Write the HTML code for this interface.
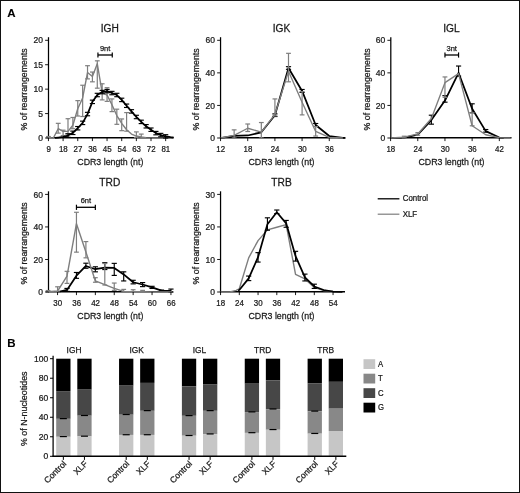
<!DOCTYPE html>
<html><head><meta charset="utf-8"><title>Figure</title>
<style>html,body{margin:0;padding:0;background:#fff;}svg{display:block;will-change:transform;}text{font-family:"Liberation Sans",sans-serif;}</style></head>
<body>
<svg width="520" height="493" viewBox="0 0 520 493" font-family="'Liberation Sans', sans-serif">
<rect x="0" y="0" width="520" height="493" fill="#fff"/>
<text transform="translate(7.3 16.7)" font-size="11.5" text-anchor="start" font-weight="bold" fill="#000" stroke="#000" stroke-width="0.1">A</text>
<text transform="translate(7.3 347.4)" font-size="11.5" text-anchor="start" font-weight="bold" fill="#000" stroke="#000" stroke-width="0.1">B</text>
<line x1="48.5" y1="37.2" x2="48.5" y2="138.5" stroke="#000" stroke-width="1.25" stroke-linecap="butt"/>
<line x1="47.9" y1="137.75" x2="173.2" y2="137.75" stroke="#000" stroke-width="1.35" stroke-linecap="butt"/>
<line x1="48.45" y1="137.76" x2="48.45" y2="136.53" stroke="#7e7e7e" stroke-width="1.2" stroke-linecap="butt"/>
<line x1="46.05" y1="136.53" x2="50.85" y2="136.53" stroke="#7e7e7e" stroke-width="1.2" stroke-linecap="butt"/>
<line x1="46.05" y1="137.76" x2="50.85" y2="137.76" stroke="#7e7e7e" stroke-width="1.2" stroke-linecap="butt"/>
<line x1="58.22" y1="133.12" x2="58.22" y2="123.34" stroke="#7e7e7e" stroke-width="1.2" stroke-linecap="butt"/>
<line x1="55.82" y1="123.34" x2="60.62" y2="123.34" stroke="#7e7e7e" stroke-width="1.2" stroke-linecap="butt"/>
<line x1="55.82" y1="133.12" x2="60.62" y2="133.12" stroke="#7e7e7e" stroke-width="1.2" stroke-linecap="butt"/>
<line x1="63.1" y1="135.56" x2="63.1" y2="130.18" stroke="#7e7e7e" stroke-width="1.2" stroke-linecap="butt"/>
<line x1="60.7" y1="130.18" x2="65.5" y2="130.18" stroke="#7e7e7e" stroke-width="1.2" stroke-linecap="butt"/>
<line x1="60.7" y1="135.56" x2="65.5" y2="135.56" stroke="#7e7e7e" stroke-width="1.2" stroke-linecap="butt"/>
<line x1="67.99" y1="133.6" x2="67.99" y2="118.7" stroke="#7e7e7e" stroke-width="1.2" stroke-linecap="butt"/>
<line x1="65.59" y1="118.7" x2="70.39" y2="118.7" stroke="#7e7e7e" stroke-width="1.2" stroke-linecap="butt"/>
<line x1="65.59" y1="133.6" x2="70.39" y2="133.6" stroke="#7e7e7e" stroke-width="1.2" stroke-linecap="butt"/>
<line x1="72.87" y1="128.72" x2="72.87" y2="117.48" stroke="#7e7e7e" stroke-width="1.2" stroke-linecap="butt"/>
<line x1="70.47" y1="117.48" x2="75.27" y2="117.48" stroke="#7e7e7e" stroke-width="1.2" stroke-linecap="butt"/>
<line x1="70.47" y1="128.72" x2="75.27" y2="128.72" stroke="#7e7e7e" stroke-width="1.2" stroke-linecap="butt"/>
<line x1="77.75" y1="116.02" x2="77.75" y2="100.63" stroke="#7e7e7e" stroke-width="1.2" stroke-linecap="butt"/>
<line x1="75.35" y1="100.63" x2="80.15" y2="100.63" stroke="#7e7e7e" stroke-width="1.2" stroke-linecap="butt"/>
<line x1="75.35" y1="116.02" x2="80.15" y2="116.02" stroke="#7e7e7e" stroke-width="1.2" stroke-linecap="butt"/>
<line x1="82.64" y1="116.51" x2="82.64" y2="85.24" stroke="#7e7e7e" stroke-width="1.2" stroke-linecap="butt"/>
<line x1="80.24" y1="85.24" x2="85.04" y2="85.24" stroke="#7e7e7e" stroke-width="1.2" stroke-linecap="butt"/>
<line x1="80.24" y1="116.51" x2="85.04" y2="116.51" stroke="#7e7e7e" stroke-width="1.2" stroke-linecap="butt"/>
<line x1="87.52" y1="78.89" x2="87.52" y2="65.7" stroke="#7e7e7e" stroke-width="1.2" stroke-linecap="butt"/>
<line x1="85.12" y1="65.7" x2="89.92" y2="65.7" stroke="#7e7e7e" stroke-width="1.2" stroke-linecap="butt"/>
<line x1="85.12" y1="78.89" x2="89.92" y2="78.89" stroke="#7e7e7e" stroke-width="1.2" stroke-linecap="butt"/>
<line x1="92.41" y1="81.82" x2="92.41" y2="72.05" stroke="#7e7e7e" stroke-width="1.2" stroke-linecap="butt"/>
<line x1="90.01" y1="72.05" x2="94.81" y2="72.05" stroke="#7e7e7e" stroke-width="1.2" stroke-linecap="butt"/>
<line x1="90.01" y1="81.82" x2="94.81" y2="81.82" stroke="#7e7e7e" stroke-width="1.2" stroke-linecap="butt"/>
<line x1="97.29" y1="88.17" x2="97.29" y2="60.82" stroke="#7e7e7e" stroke-width="1.2" stroke-linecap="butt"/>
<line x1="94.89" y1="60.82" x2="99.69" y2="60.82" stroke="#7e7e7e" stroke-width="1.2" stroke-linecap="butt"/>
<line x1="94.89" y1="88.17" x2="99.69" y2="88.17" stroke="#7e7e7e" stroke-width="1.2" stroke-linecap="butt"/>
<line x1="102.17" y1="99.9" x2="102.17" y2="83.78" stroke="#7e7e7e" stroke-width="1.2" stroke-linecap="butt"/>
<line x1="99.77" y1="83.78" x2="104.57" y2="83.78" stroke="#7e7e7e" stroke-width="1.2" stroke-linecap="butt"/>
<line x1="99.77" y1="99.9" x2="104.57" y2="99.9" stroke="#7e7e7e" stroke-width="1.2" stroke-linecap="butt"/>
<line x1="107.06" y1="101.36" x2="107.06" y2="87.68" stroke="#7e7e7e" stroke-width="1.2" stroke-linecap="butt"/>
<line x1="104.66" y1="87.68" x2="109.46" y2="87.68" stroke="#7e7e7e" stroke-width="1.2" stroke-linecap="butt"/>
<line x1="104.66" y1="101.36" x2="109.46" y2="101.36" stroke="#7e7e7e" stroke-width="1.2" stroke-linecap="butt"/>
<line x1="111.94" y1="111.62" x2="111.94" y2="98.92" stroke="#7e7e7e" stroke-width="1.2" stroke-linecap="butt"/>
<line x1="109.54" y1="98.92" x2="114.34" y2="98.92" stroke="#7e7e7e" stroke-width="1.2" stroke-linecap="butt"/>
<line x1="109.54" y1="111.62" x2="114.34" y2="111.62" stroke="#7e7e7e" stroke-width="1.2" stroke-linecap="butt"/>
<line x1="116.83" y1="124.32" x2="116.83" y2="109.18" stroke="#7e7e7e" stroke-width="1.2" stroke-linecap="butt"/>
<line x1="114.43" y1="109.18" x2="119.23" y2="109.18" stroke="#7e7e7e" stroke-width="1.2" stroke-linecap="butt"/>
<line x1="114.43" y1="124.32" x2="119.23" y2="124.32" stroke="#7e7e7e" stroke-width="1.2" stroke-linecap="butt"/>
<line x1="121.71" y1="130.67" x2="121.71" y2="118.95" stroke="#7e7e7e" stroke-width="1.2" stroke-linecap="butt"/>
<line x1="119.31" y1="118.95" x2="124.11" y2="118.95" stroke="#7e7e7e" stroke-width="1.2" stroke-linecap="butt"/>
<line x1="119.31" y1="130.67" x2="124.11" y2="130.67" stroke="#7e7e7e" stroke-width="1.2" stroke-linecap="butt"/>
<line x1="126.59" y1="131.16" x2="126.59" y2="112.6" stroke="#7e7e7e" stroke-width="1.2" stroke-linecap="butt"/>
<line x1="124.19" y1="112.6" x2="128.99" y2="112.6" stroke="#7e7e7e" stroke-width="1.2" stroke-linecap="butt"/>
<line x1="124.19" y1="131.16" x2="128.99" y2="131.16" stroke="#7e7e7e" stroke-width="1.2" stroke-linecap="butt"/>
<line x1="136.36" y1="137.51" x2="136.36" y2="131.89" stroke="#7e7e7e" stroke-width="1.2" stroke-linecap="butt"/>
<line x1="133.96" y1="131.89" x2="138.76" y2="131.89" stroke="#7e7e7e" stroke-width="1.2" stroke-linecap="butt"/>
<line x1="133.96" y1="137.51" x2="138.76" y2="137.51" stroke="#7e7e7e" stroke-width="1.2" stroke-linecap="butt"/>
<line x1="141.25" y1="138" x2="141.25" y2="134.09" stroke="#7e7e7e" stroke-width="1.2" stroke-linecap="butt"/>
<line x1="138.85" y1="134.09" x2="143.65" y2="134.09" stroke="#7e7e7e" stroke-width="1.2" stroke-linecap="butt"/>
<line x1="138.85" y1="138" x2="143.65" y2="138" stroke="#7e7e7e" stroke-width="1.2" stroke-linecap="butt"/>
<polyline points="48.45,137.76 53.33,138 58.22,128.72 63.1,131.41 67.99,131.41 72.87,125.3 77.75,108.69 82.64,97.94 87.52,72.54 92.41,76.45 97.29,63.75 102.17,92.57 107.06,95.01 111.94,104.78 116.83,115.53 121.71,123.34 126.59,129.7 131.48,134.09 136.36,136.05 141.25,137.02 146.13,137.76 151.01,138 170.55,138" fill="none" stroke="#7e7e7e" stroke-width="1.4" stroke-linejoin="round"/>
<line x1="67.99" y1="137.27" x2="67.99" y2="133.85" stroke="#000" stroke-width="1.15" stroke-linecap="butt"/>
<line x1="65.39" y1="133.85" x2="70.59" y2="133.85" stroke="#000" stroke-width="1.15" stroke-linecap="butt"/>
<line x1="65.39" y1="137.27" x2="70.59" y2="137.27" stroke="#000" stroke-width="1.15" stroke-linecap="butt"/>
<line x1="72.87" y1="134.53" x2="72.87" y2="131.11" stroke="#000" stroke-width="1.15" stroke-linecap="butt"/>
<line x1="70.27" y1="131.11" x2="75.47" y2="131.11" stroke="#000" stroke-width="1.15" stroke-linecap="butt"/>
<line x1="70.27" y1="134.53" x2="75.47" y2="134.53" stroke="#000" stroke-width="1.15" stroke-linecap="butt"/>
<line x1="77.75" y1="129.94" x2="77.75" y2="126.52" stroke="#000" stroke-width="1.15" stroke-linecap="butt"/>
<line x1="75.15" y1="126.52" x2="80.35" y2="126.52" stroke="#000" stroke-width="1.15" stroke-linecap="butt"/>
<line x1="75.15" y1="129.94" x2="80.35" y2="129.94" stroke="#000" stroke-width="1.15" stroke-linecap="butt"/>
<line x1="82.64" y1="124.57" x2="82.64" y2="121.15" stroke="#000" stroke-width="1.15" stroke-linecap="butt"/>
<line x1="80.04" y1="121.15" x2="85.24" y2="121.15" stroke="#000" stroke-width="1.15" stroke-linecap="butt"/>
<line x1="80.04" y1="124.57" x2="85.24" y2="124.57" stroke="#000" stroke-width="1.15" stroke-linecap="butt"/>
<line x1="87.52" y1="115.77" x2="87.52" y2="112.35" stroke="#000" stroke-width="1.15" stroke-linecap="butt"/>
<line x1="84.92" y1="112.35" x2="90.12" y2="112.35" stroke="#000" stroke-width="1.15" stroke-linecap="butt"/>
<line x1="84.92" y1="115.77" x2="90.12" y2="115.77" stroke="#000" stroke-width="1.15" stroke-linecap="butt"/>
<line x1="92.41" y1="103.56" x2="92.41" y2="100.14" stroke="#000" stroke-width="1.15" stroke-linecap="butt"/>
<line x1="89.81" y1="100.14" x2="95.01" y2="100.14" stroke="#000" stroke-width="1.15" stroke-linecap="butt"/>
<line x1="89.81" y1="103.56" x2="95.01" y2="103.56" stroke="#000" stroke-width="1.15" stroke-linecap="butt"/>
<line x1="97.29" y1="96.72" x2="97.29" y2="93.3" stroke="#000" stroke-width="1.15" stroke-linecap="butt"/>
<line x1="94.69" y1="93.3" x2="99.89" y2="93.3" stroke="#000" stroke-width="1.15" stroke-linecap="butt"/>
<line x1="94.69" y1="96.72" x2="99.89" y2="96.72" stroke="#000" stroke-width="1.15" stroke-linecap="butt"/>
<line x1="102.17" y1="93.79" x2="102.17" y2="90.37" stroke="#000" stroke-width="1.15" stroke-linecap="butt"/>
<line x1="99.57" y1="90.37" x2="104.77" y2="90.37" stroke="#000" stroke-width="1.15" stroke-linecap="butt"/>
<line x1="99.57" y1="93.79" x2="104.77" y2="93.79" stroke="#000" stroke-width="1.15" stroke-linecap="butt"/>
<line x1="107.06" y1="92.81" x2="107.06" y2="89.39" stroke="#000" stroke-width="1.15" stroke-linecap="butt"/>
<line x1="104.46" y1="89.39" x2="109.66" y2="89.39" stroke="#000" stroke-width="1.15" stroke-linecap="butt"/>
<line x1="104.46" y1="92.81" x2="109.66" y2="92.81" stroke="#000" stroke-width="1.15" stroke-linecap="butt"/>
<line x1="111.94" y1="94.77" x2="111.94" y2="91.35" stroke="#000" stroke-width="1.15" stroke-linecap="butt"/>
<line x1="109.34" y1="91.35" x2="114.54" y2="91.35" stroke="#000" stroke-width="1.15" stroke-linecap="butt"/>
<line x1="109.34" y1="94.77" x2="114.54" y2="94.77" stroke="#000" stroke-width="1.15" stroke-linecap="butt"/>
<line x1="116.83" y1="96.72" x2="116.83" y2="93.3" stroke="#000" stroke-width="1.15" stroke-linecap="butt"/>
<line x1="114.23" y1="93.3" x2="119.43" y2="93.3" stroke="#000" stroke-width="1.15" stroke-linecap="butt"/>
<line x1="114.23" y1="96.72" x2="119.43" y2="96.72" stroke="#000" stroke-width="1.15" stroke-linecap="butt"/>
<line x1="121.71" y1="101.61" x2="121.71" y2="98.19" stroke="#000" stroke-width="1.15" stroke-linecap="butt"/>
<line x1="119.11" y1="98.19" x2="124.31" y2="98.19" stroke="#000" stroke-width="1.15" stroke-linecap="butt"/>
<line x1="119.11" y1="101.61" x2="124.31" y2="101.61" stroke="#000" stroke-width="1.15" stroke-linecap="butt"/>
<line x1="126.59" y1="107.47" x2="126.59" y2="104.05" stroke="#000" stroke-width="1.15" stroke-linecap="butt"/>
<line x1="123.99" y1="104.05" x2="129.19" y2="104.05" stroke="#000" stroke-width="1.15" stroke-linecap="butt"/>
<line x1="123.99" y1="107.47" x2="129.19" y2="107.47" stroke="#000" stroke-width="1.15" stroke-linecap="butt"/>
<line x1="131.48" y1="113.09" x2="131.48" y2="109.67" stroke="#000" stroke-width="1.15" stroke-linecap="butt"/>
<line x1="128.88" y1="109.67" x2="134.08" y2="109.67" stroke="#000" stroke-width="1.15" stroke-linecap="butt"/>
<line x1="128.88" y1="113.09" x2="134.08" y2="113.09" stroke="#000" stroke-width="1.15" stroke-linecap="butt"/>
<line x1="136.36" y1="118.7" x2="136.36" y2="115.28" stroke="#000" stroke-width="1.15" stroke-linecap="butt"/>
<line x1="133.76" y1="115.28" x2="138.96" y2="115.28" stroke="#000" stroke-width="1.15" stroke-linecap="butt"/>
<line x1="133.76" y1="118.7" x2="138.96" y2="118.7" stroke="#000" stroke-width="1.15" stroke-linecap="butt"/>
<line x1="141.25" y1="123.59" x2="141.25" y2="120.17" stroke="#000" stroke-width="1.15" stroke-linecap="butt"/>
<line x1="138.65" y1="120.17" x2="143.85" y2="120.17" stroke="#000" stroke-width="1.15" stroke-linecap="butt"/>
<line x1="138.65" y1="123.59" x2="143.85" y2="123.59" stroke="#000" stroke-width="1.15" stroke-linecap="butt"/>
<line x1="146.13" y1="127.99" x2="146.13" y2="124.57" stroke="#000" stroke-width="1.15" stroke-linecap="butt"/>
<line x1="143.53" y1="124.57" x2="148.73" y2="124.57" stroke="#000" stroke-width="1.15" stroke-linecap="butt"/>
<line x1="143.53" y1="127.99" x2="148.73" y2="127.99" stroke="#000" stroke-width="1.15" stroke-linecap="butt"/>
<line x1="151.01" y1="131.41" x2="151.01" y2="127.99" stroke="#000" stroke-width="1.15" stroke-linecap="butt"/>
<line x1="148.41" y1="127.99" x2="153.61" y2="127.99" stroke="#000" stroke-width="1.15" stroke-linecap="butt"/>
<line x1="148.41" y1="131.41" x2="153.61" y2="131.41" stroke="#000" stroke-width="1.15" stroke-linecap="butt"/>
<line x1="155.9" y1="134.82" x2="155.9" y2="131.41" stroke="#000" stroke-width="1.15" stroke-linecap="butt"/>
<line x1="153.3" y1="131.41" x2="158.5" y2="131.41" stroke="#000" stroke-width="1.15" stroke-linecap="butt"/>
<line x1="153.3" y1="134.82" x2="158.5" y2="134.82" stroke="#000" stroke-width="1.15" stroke-linecap="butt"/>
<line x1="160.78" y1="136.78" x2="160.78" y2="133.36" stroke="#000" stroke-width="1.15" stroke-linecap="butt"/>
<line x1="158.18" y1="133.36" x2="163.38" y2="133.36" stroke="#000" stroke-width="1.15" stroke-linecap="butt"/>
<line x1="158.18" y1="136.78" x2="163.38" y2="136.78" stroke="#000" stroke-width="1.15" stroke-linecap="butt"/>
<line x1="165.67" y1="138" x2="165.67" y2="134.68" stroke="#000" stroke-width="1.15" stroke-linecap="butt"/>
<line x1="163.07" y1="134.68" x2="168.27" y2="134.68" stroke="#000" stroke-width="1.15" stroke-linecap="butt"/>
<line x1="163.07" y1="138" x2="168.27" y2="138" stroke="#000" stroke-width="1.15" stroke-linecap="butt"/>
<polyline points="54.96,137.9 58.22,137.51 63.1,136.83 67.99,135.56 72.87,132.82 77.75,128.23 82.64,122.86 87.52,114.06 92.41,101.85 97.29,95.01 102.17,92.08 107.06,91.1 111.94,93.06 116.83,95.01 121.71,99.9 126.59,105.76 131.48,111.38 136.36,116.99 141.25,121.88 146.13,126.28 151.01,129.7 155.9,133.12 160.78,135.07 165.67,136.39 170.55,137.12 173.81,137.51" fill="none" stroke="#000" stroke-width="1.75" stroke-linejoin="round"/>
<line x1="45.1" y1="138" x2="48.5" y2="138" stroke="#000" stroke-width="0.9" stroke-linecap="butt"/>
<text transform="translate(43 141.1) scale(0.97 1)" font-size="8.8" text-anchor="end" font-weight="normal" fill="#1a1a1a" stroke="#1a1a1a" stroke-width="0.25">0</text>
<line x1="45.1" y1="113.58" x2="48.5" y2="113.58" stroke="#000" stroke-width="0.9" stroke-linecap="butt"/>
<text transform="translate(43 116.67) scale(0.97 1)" font-size="8.8" text-anchor="end" font-weight="normal" fill="#1a1a1a" stroke="#1a1a1a" stroke-width="0.25">5</text>
<line x1="45.1" y1="89.15" x2="48.5" y2="89.15" stroke="#000" stroke-width="0.9" stroke-linecap="butt"/>
<text transform="translate(43 92.25) scale(0.97 1)" font-size="8.8" text-anchor="end" font-weight="normal" fill="#1a1a1a" stroke="#1a1a1a" stroke-width="0.25">10</text>
<line x1="45.1" y1="64.73" x2="48.5" y2="64.73" stroke="#000" stroke-width="0.9" stroke-linecap="butt"/>
<text transform="translate(43 67.83) scale(0.97 1)" font-size="8.8" text-anchor="end" font-weight="normal" fill="#1a1a1a" stroke="#1a1a1a" stroke-width="0.25">15</text>
<line x1="45.1" y1="40.3" x2="48.5" y2="40.3" stroke="#000" stroke-width="0.9" stroke-linecap="butt"/>
<text transform="translate(43 43.4) scale(0.97 1)" font-size="8.8" text-anchor="end" font-weight="normal" fill="#1a1a1a" stroke="#1a1a1a" stroke-width="0.25">20</text>
<line x1="48.45" y1="138" x2="48.45" y2="141.1" stroke="#000" stroke-width="0.9" stroke-linecap="butt"/>
<text transform="translate(48.65 152.1) scale(0.9 1)" font-size="8.8" text-anchor="middle" font-weight="normal" fill="#1a1a1a" stroke="#1a1a1a" stroke-width="0.25">9</text>
<line x1="63.1" y1="138" x2="63.1" y2="141.1" stroke="#000" stroke-width="0.9" stroke-linecap="butt"/>
<text transform="translate(63.3 152.1) scale(0.9 1)" font-size="8.8" text-anchor="middle" font-weight="normal" fill="#1a1a1a" stroke="#1a1a1a" stroke-width="0.25">18</text>
<line x1="77.75" y1="138" x2="77.75" y2="141.1" stroke="#000" stroke-width="0.9" stroke-linecap="butt"/>
<text transform="translate(77.95 152.1) scale(0.9 1)" font-size="8.8" text-anchor="middle" font-weight="normal" fill="#1a1a1a" stroke="#1a1a1a" stroke-width="0.25">27</text>
<line x1="92.41" y1="138" x2="92.41" y2="141.1" stroke="#000" stroke-width="0.9" stroke-linecap="butt"/>
<text transform="translate(92.61 152.1) scale(0.9 1)" font-size="8.8" text-anchor="middle" font-weight="normal" fill="#1a1a1a" stroke="#1a1a1a" stroke-width="0.25">36</text>
<line x1="107.06" y1="138" x2="107.06" y2="141.1" stroke="#000" stroke-width="0.9" stroke-linecap="butt"/>
<text transform="translate(107.26 152.1) scale(0.9 1)" font-size="8.8" text-anchor="middle" font-weight="normal" fill="#1a1a1a" stroke="#1a1a1a" stroke-width="0.25">45</text>
<line x1="121.71" y1="138" x2="121.71" y2="141.1" stroke="#000" stroke-width="0.9" stroke-linecap="butt"/>
<text transform="translate(121.91 152.1) scale(0.9 1)" font-size="8.8" text-anchor="middle" font-weight="normal" fill="#1a1a1a" stroke="#1a1a1a" stroke-width="0.25">54</text>
<line x1="136.36" y1="138" x2="136.36" y2="141.1" stroke="#000" stroke-width="0.9" stroke-linecap="butt"/>
<text transform="translate(136.56 152.1) scale(0.9 1)" font-size="8.8" text-anchor="middle" font-weight="normal" fill="#1a1a1a" stroke="#1a1a1a" stroke-width="0.25">63</text>
<line x1="151.01" y1="138" x2="151.01" y2="141.1" stroke="#000" stroke-width="0.9" stroke-linecap="butt"/>
<text transform="translate(151.21 152.1) scale(0.9 1)" font-size="8.8" text-anchor="middle" font-weight="normal" fill="#1a1a1a" stroke="#1a1a1a" stroke-width="0.25">72</text>
<line x1="165.67" y1="138" x2="165.67" y2="141.1" stroke="#000" stroke-width="0.9" stroke-linecap="butt"/>
<text transform="translate(165.87 152.1) scale(0.9 1)" font-size="8.8" text-anchor="middle" font-weight="normal" fill="#1a1a1a" stroke="#1a1a1a" stroke-width="0.25">81</text>
<text transform="translate(109.8 32.1) scale(1.02 1)" font-size="10" text-anchor="middle" font-weight="normal" fill="#1a1a1a" stroke="#1a1a1a" stroke-width="0.25">IGH</text>
<text transform="translate(110.3 165.3) scale(0.905 1)" font-size="9.75" text-anchor="middle" font-weight="normal" fill="#1a1a1a" stroke="#1a1a1a" stroke-width="0.25">CDR3 length (nt)</text>
<text transform="translate(27.4 89.35) rotate(-90) scale(0.978 1)" font-size="9.0" text-anchor="middle" font-weight="normal" fill="#1a1a1a" stroke="#1a1a1a" stroke-width="0.25">% of rearrangements</text>
<line x1="97.94" y1="55" x2="112.27" y2="55" stroke="#000" stroke-width="1.3" stroke-linecap="butt"/>
<line x1="97.94" y1="52.4" x2="97.94" y2="57.6" stroke="#000" stroke-width="1.2" stroke-linecap="butt"/>
<line x1="112.27" y1="52.4" x2="112.27" y2="57.6" stroke="#000" stroke-width="1.2" stroke-linecap="butt"/>
<text transform="translate(105.1 51)" font-size="7.5" text-anchor="middle" font-weight="normal" fill="#1a1a1a" stroke="#1a1a1a" stroke-width="0.25">9nt</text>
<line x1="220.55" y1="37.2" x2="220.55" y2="138.5" stroke="#000" stroke-width="1.25" stroke-linecap="butt"/>
<line x1="219.95" y1="137.75" x2="345" y2="137.75" stroke="#000" stroke-width="1.35" stroke-linecap="butt"/>
<line x1="274.91" y1="116.51" x2="274.91" y2="113.9" stroke="#000" stroke-width="1.15" stroke-linecap="butt"/>
<line x1="272.31" y1="113.9" x2="277.51" y2="113.9" stroke="#000" stroke-width="1.15" stroke-linecap="butt"/>
<line x1="272.31" y1="116.51" x2="277.51" y2="116.51" stroke="#000" stroke-width="1.15" stroke-linecap="butt"/>
<line x1="288.5" y1="69.28" x2="288.5" y2="66.68" stroke="#000" stroke-width="1.15" stroke-linecap="butt"/>
<line x1="285.9" y1="66.68" x2="291.1" y2="66.68" stroke="#000" stroke-width="1.15" stroke-linecap="butt"/>
<line x1="285.9" y1="69.28" x2="291.1" y2="69.28" stroke="#000" stroke-width="1.15" stroke-linecap="butt"/>
<line x1="302.09" y1="92.41" x2="302.09" y2="89.48" stroke="#000" stroke-width="1.15" stroke-linecap="butt"/>
<line x1="299.49" y1="89.48" x2="304.69" y2="89.48" stroke="#000" stroke-width="1.15" stroke-linecap="butt"/>
<line x1="299.49" y1="92.41" x2="304.69" y2="92.41" stroke="#000" stroke-width="1.15" stroke-linecap="butt"/>
<line x1="315.68" y1="126.44" x2="315.68" y2="123.51" stroke="#000" stroke-width="1.15" stroke-linecap="butt"/>
<line x1="313.08" y1="123.51" x2="318.28" y2="123.51" stroke="#000" stroke-width="1.15" stroke-linecap="butt"/>
<line x1="313.08" y1="126.44" x2="318.28" y2="126.44" stroke="#000" stroke-width="1.15" stroke-linecap="butt"/>
<polyline points="220.55,138 234.14,135.88 247.73,135.48 261.32,132.3 274.91,115.2 288.5,67.98 302.09,90.94 315.68,124.97 329.27,136.05 342.86,137.84 345.58,138" fill="none" stroke="#000" stroke-width="1.75" stroke-linejoin="round"/>
<line x1="234.14" y1="138" x2="234.14" y2="129.86" stroke="#7e7e7e" stroke-width="1.2" stroke-linecap="butt"/>
<line x1="231.74" y1="129.86" x2="236.54" y2="129.86" stroke="#7e7e7e" stroke-width="1.2" stroke-linecap="butt"/>
<line x1="231.74" y1="138" x2="236.54" y2="138" stroke="#7e7e7e" stroke-width="1.2" stroke-linecap="butt"/>
<line x1="247.73" y1="131.49" x2="247.73" y2="124" stroke="#7e7e7e" stroke-width="1.2" stroke-linecap="butt"/>
<line x1="245.33" y1="124" x2="250.13" y2="124" stroke="#7e7e7e" stroke-width="1.2" stroke-linecap="butt"/>
<line x1="245.33" y1="131.49" x2="250.13" y2="131.49" stroke="#7e7e7e" stroke-width="1.2" stroke-linecap="butt"/>
<line x1="261.32" y1="138" x2="261.32" y2="122.53" stroke="#7e7e7e" stroke-width="1.2" stroke-linecap="butt"/>
<line x1="258.92" y1="122.53" x2="263.72" y2="122.53" stroke="#7e7e7e" stroke-width="1.2" stroke-linecap="butt"/>
<line x1="258.92" y1="138" x2="263.72" y2="138" stroke="#7e7e7e" stroke-width="1.2" stroke-linecap="butt"/>
<line x1="274.91" y1="115.85" x2="274.91" y2="98.92" stroke="#7e7e7e" stroke-width="1.2" stroke-linecap="butt"/>
<line x1="272.51" y1="98.92" x2="277.31" y2="98.92" stroke="#7e7e7e" stroke-width="1.2" stroke-linecap="butt"/>
<line x1="272.51" y1="115.85" x2="277.31" y2="115.85" stroke="#7e7e7e" stroke-width="1.2" stroke-linecap="butt"/>
<line x1="288.5" y1="81.82" x2="288.5" y2="53.33" stroke="#7e7e7e" stroke-width="1.2" stroke-linecap="butt"/>
<line x1="286.1" y1="53.33" x2="290.9" y2="53.33" stroke="#7e7e7e" stroke-width="1.2" stroke-linecap="butt"/>
<line x1="286.1" y1="81.82" x2="290.9" y2="81.82" stroke="#7e7e7e" stroke-width="1.2" stroke-linecap="butt"/>
<line x1="302.09" y1="114.88" x2="302.09" y2="91.59" stroke="#7e7e7e" stroke-width="1.2" stroke-linecap="butt"/>
<line x1="299.69" y1="91.59" x2="304.49" y2="91.59" stroke="#7e7e7e" stroke-width="1.2" stroke-linecap="butt"/>
<line x1="299.69" y1="114.88" x2="304.49" y2="114.88" stroke="#7e7e7e" stroke-width="1.2" stroke-linecap="butt"/>
<line x1="315.68" y1="136.05" x2="315.68" y2="126.6" stroke="#7e7e7e" stroke-width="1.2" stroke-linecap="butt"/>
<line x1="313.28" y1="126.6" x2="318.08" y2="126.6" stroke="#7e7e7e" stroke-width="1.2" stroke-linecap="butt"/>
<line x1="313.28" y1="136.05" x2="318.08" y2="136.05" stroke="#7e7e7e" stroke-width="1.2" stroke-linecap="butt"/>
<polyline points="220.55,138 234.14,135.39 247.73,128.23 261.32,132.14 274.91,114.39 288.5,71.24 302.09,102.18 315.68,131.49 329.27,137.35 342.86,138" fill="none" stroke="#7e7e7e" stroke-width="1.35" stroke-linejoin="round"/>
<line x1="217.15" y1="138" x2="220.55" y2="138" stroke="#000" stroke-width="0.9" stroke-linecap="butt"/>
<text transform="translate(215.05 141.1) scale(0.97 1)" font-size="8.8" text-anchor="end" font-weight="normal" fill="#1a1a1a" stroke="#1a1a1a" stroke-width="0.25">0</text>
<line x1="217.15" y1="105.43" x2="220.55" y2="105.43" stroke="#000" stroke-width="0.9" stroke-linecap="butt"/>
<text transform="translate(215.05 108.53) scale(0.97 1)" font-size="8.8" text-anchor="end" font-weight="normal" fill="#1a1a1a" stroke="#1a1a1a" stroke-width="0.25">20</text>
<line x1="217.15" y1="72.87" x2="220.55" y2="72.87" stroke="#000" stroke-width="0.9" stroke-linecap="butt"/>
<text transform="translate(215.05 75.97) scale(0.97 1)" font-size="8.8" text-anchor="end" font-weight="normal" fill="#1a1a1a" stroke="#1a1a1a" stroke-width="0.25">40</text>
<line x1="217.15" y1="40.3" x2="220.55" y2="40.3" stroke="#000" stroke-width="0.9" stroke-linecap="butt"/>
<text transform="translate(215.05 43.4) scale(0.97 1)" font-size="8.8" text-anchor="end" font-weight="normal" fill="#1a1a1a" stroke="#1a1a1a" stroke-width="0.25">60</text>
<line x1="220.55" y1="138" x2="220.55" y2="141.1" stroke="#000" stroke-width="0.9" stroke-linecap="butt"/>
<text transform="translate(220.75 152.1) scale(0.9 1)" font-size="8.8" text-anchor="middle" font-weight="normal" fill="#1a1a1a" stroke="#1a1a1a" stroke-width="0.25">12</text>
<line x1="247.73" y1="138" x2="247.73" y2="141.1" stroke="#000" stroke-width="0.9" stroke-linecap="butt"/>
<text transform="translate(247.93 152.1) scale(0.9 1)" font-size="8.8" text-anchor="middle" font-weight="normal" fill="#1a1a1a" stroke="#1a1a1a" stroke-width="0.25">18</text>
<line x1="274.91" y1="138" x2="274.91" y2="141.1" stroke="#000" stroke-width="0.9" stroke-linecap="butt"/>
<text transform="translate(275.11 152.1) scale(0.9 1)" font-size="8.8" text-anchor="middle" font-weight="normal" fill="#1a1a1a" stroke="#1a1a1a" stroke-width="0.25">24</text>
<line x1="302.09" y1="138" x2="302.09" y2="141.1" stroke="#000" stroke-width="0.9" stroke-linecap="butt"/>
<text transform="translate(302.29 152.1) scale(0.9 1)" font-size="8.8" text-anchor="middle" font-weight="normal" fill="#1a1a1a" stroke="#1a1a1a" stroke-width="0.25">30</text>
<line x1="329.27" y1="138" x2="329.27" y2="141.1" stroke="#000" stroke-width="0.9" stroke-linecap="butt"/>
<text transform="translate(329.47 152.1) scale(0.9 1)" font-size="8.8" text-anchor="middle" font-weight="normal" fill="#1a1a1a" stroke="#1a1a1a" stroke-width="0.25">36</text>
<text transform="translate(281.5 32.1) scale(1.02 1)" font-size="10" text-anchor="middle" font-weight="normal" fill="#1a1a1a" stroke="#1a1a1a" stroke-width="0.25">IGK</text>
<text transform="translate(281.5 165.3) scale(0.905 1)" font-size="9.75" text-anchor="middle" font-weight="normal" fill="#1a1a1a" stroke="#1a1a1a" stroke-width="0.25">CDR3 length (nt)</text>
<text transform="translate(199.45 89.35) rotate(-90) scale(0.978 1)" font-size="9.0" text-anchor="middle" font-weight="normal" fill="#1a1a1a" stroke="#1a1a1a" stroke-width="0.25">% of rearrangements</text>
<line x1="390.8" y1="37.2" x2="390.8" y2="138.5" stroke="#000" stroke-width="1.25" stroke-linecap="butt"/>
<line x1="390.2" y1="137.75" x2="511.5" y2="137.75" stroke="#000" stroke-width="1.35" stroke-linecap="butt"/>
<line x1="431.37" y1="124.16" x2="431.37" y2="115.2" stroke="#000" stroke-width="1.15" stroke-linecap="butt"/>
<line x1="428.77" y1="115.2" x2="433.97" y2="115.2" stroke="#000" stroke-width="1.15" stroke-linecap="butt"/>
<line x1="428.77" y1="124.16" x2="433.97" y2="124.16" stroke="#000" stroke-width="1.15" stroke-linecap="butt"/>
<line x1="444.96" y1="102.18" x2="444.96" y2="95.66" stroke="#000" stroke-width="1.15" stroke-linecap="butt"/>
<line x1="442.36" y1="95.66" x2="447.56" y2="95.66" stroke="#000" stroke-width="1.15" stroke-linecap="butt"/>
<line x1="442.36" y1="102.18" x2="447.56" y2="102.18" stroke="#000" stroke-width="1.15" stroke-linecap="butt"/>
<line x1="458.55" y1="76.12" x2="458.55" y2="66.03" stroke="#000" stroke-width="1.15" stroke-linecap="butt"/>
<line x1="455.95" y1="66.03" x2="461.15" y2="66.03" stroke="#000" stroke-width="1.15" stroke-linecap="butt"/>
<line x1="455.95" y1="76.12" x2="461.15" y2="76.12" stroke="#000" stroke-width="1.15" stroke-linecap="butt"/>
<line x1="472.14" y1="112.76" x2="472.14" y2="103.81" stroke="#000" stroke-width="1.15" stroke-linecap="butt"/>
<line x1="469.54" y1="103.81" x2="474.74" y2="103.81" stroke="#000" stroke-width="1.15" stroke-linecap="butt"/>
<line x1="469.54" y1="112.76" x2="474.74" y2="112.76" stroke="#000" stroke-width="1.15" stroke-linecap="butt"/>
<line x1="485.73" y1="132.14" x2="485.73" y2="129.53" stroke="#000" stroke-width="1.15" stroke-linecap="butt"/>
<line x1="483.13" y1="129.53" x2="488.33" y2="129.53" stroke="#000" stroke-width="1.15" stroke-linecap="butt"/>
<line x1="483.13" y1="132.14" x2="488.33" y2="132.14" stroke="#000" stroke-width="1.15" stroke-linecap="butt"/>
<polyline points="390.6,138 404.19,137.67 417.78,134.74 431.37,120.09 444.96,100.55 458.55,72.87 472.14,108.69 485.73,131.16 499.32,137.51 503.85,138" fill="none" stroke="#000" stroke-width="1.75" stroke-linejoin="round"/>
<line x1="404.19" y1="137.84" x2="404.19" y2="136.21" stroke="#7e7e7e" stroke-width="1.2" stroke-linecap="butt"/>
<line x1="401.79" y1="136.21" x2="406.59" y2="136.21" stroke="#7e7e7e" stroke-width="1.2" stroke-linecap="butt"/>
<line x1="401.79" y1="137.84" x2="406.59" y2="137.84" stroke="#7e7e7e" stroke-width="1.2" stroke-linecap="butt"/>
<line x1="417.78" y1="135.23" x2="417.78" y2="132.63" stroke="#7e7e7e" stroke-width="1.2" stroke-linecap="butt"/>
<line x1="415.38" y1="132.63" x2="420.18" y2="132.63" stroke="#7e7e7e" stroke-width="1.2" stroke-linecap="butt"/>
<line x1="415.38" y1="135.23" x2="420.18" y2="135.23" stroke="#7e7e7e" stroke-width="1.2" stroke-linecap="butt"/>
<line x1="444.96" y1="97.29" x2="444.96" y2="76.94" stroke="#7e7e7e" stroke-width="1.2" stroke-linecap="butt"/>
<line x1="442.56" y1="76.94" x2="447.36" y2="76.94" stroke="#7e7e7e" stroke-width="1.2" stroke-linecap="butt"/>
<line x1="442.56" y1="97.29" x2="447.36" y2="97.29" stroke="#7e7e7e" stroke-width="1.2" stroke-linecap="butt"/>
<line x1="472.14" y1="125.79" x2="472.14" y2="112.76" stroke="#7e7e7e" stroke-width="1.2" stroke-linecap="butt"/>
<line x1="469.74" y1="112.76" x2="474.54" y2="112.76" stroke="#7e7e7e" stroke-width="1.2" stroke-linecap="butt"/>
<line x1="469.74" y1="125.79" x2="474.54" y2="125.79" stroke="#7e7e7e" stroke-width="1.2" stroke-linecap="butt"/>
<polyline points="390.6,138 404.19,137.19 417.78,133.93 431.37,118.46 444.96,82.64 458.55,73.68 472.14,125.79 485.73,134.74 499.32,137.67 510.65,138" fill="none" stroke="#7e7e7e" stroke-width="1.35" stroke-linejoin="round"/>
<line x1="387.4" y1="138" x2="390.8" y2="138" stroke="#000" stroke-width="0.9" stroke-linecap="butt"/>
<text transform="translate(385.3 141.1) scale(0.97 1)" font-size="8.8" text-anchor="end" font-weight="normal" fill="#1a1a1a" stroke="#1a1a1a" stroke-width="0.25">0</text>
<line x1="387.4" y1="105.43" x2="390.8" y2="105.43" stroke="#000" stroke-width="0.9" stroke-linecap="butt"/>
<text transform="translate(385.3 108.53) scale(0.97 1)" font-size="8.8" text-anchor="end" font-weight="normal" fill="#1a1a1a" stroke="#1a1a1a" stroke-width="0.25">20</text>
<line x1="387.4" y1="72.87" x2="390.8" y2="72.87" stroke="#000" stroke-width="0.9" stroke-linecap="butt"/>
<text transform="translate(385.3 75.97) scale(0.97 1)" font-size="8.8" text-anchor="end" font-weight="normal" fill="#1a1a1a" stroke="#1a1a1a" stroke-width="0.25">40</text>
<line x1="387.4" y1="40.3" x2="390.8" y2="40.3" stroke="#000" stroke-width="0.9" stroke-linecap="butt"/>
<text transform="translate(385.3 43.4) scale(0.97 1)" font-size="8.8" text-anchor="end" font-weight="normal" fill="#1a1a1a" stroke="#1a1a1a" stroke-width="0.25">60</text>
<line x1="390.6" y1="138" x2="390.6" y2="141.1" stroke="#000" stroke-width="0.9" stroke-linecap="butt"/>
<text transform="translate(390.8 152.1) scale(0.9 1)" font-size="8.8" text-anchor="middle" font-weight="normal" fill="#1a1a1a" stroke="#1a1a1a" stroke-width="0.25">18</text>
<line x1="417.78" y1="138" x2="417.78" y2="141.1" stroke="#000" stroke-width="0.9" stroke-linecap="butt"/>
<text transform="translate(417.98 152.1) scale(0.9 1)" font-size="8.8" text-anchor="middle" font-weight="normal" fill="#1a1a1a" stroke="#1a1a1a" stroke-width="0.25">24</text>
<line x1="444.96" y1="138" x2="444.96" y2="141.1" stroke="#000" stroke-width="0.9" stroke-linecap="butt"/>
<text transform="translate(445.16 152.1) scale(0.9 1)" font-size="8.8" text-anchor="middle" font-weight="normal" fill="#1a1a1a" stroke="#1a1a1a" stroke-width="0.25">30</text>
<line x1="472.14" y1="138" x2="472.14" y2="141.1" stroke="#000" stroke-width="0.9" stroke-linecap="butt"/>
<text transform="translate(472.34 152.1) scale(0.9 1)" font-size="8.8" text-anchor="middle" font-weight="normal" fill="#1a1a1a" stroke="#1a1a1a" stroke-width="0.25">36</text>
<line x1="499.32" y1="138" x2="499.32" y2="141.1" stroke="#000" stroke-width="0.9" stroke-linecap="butt"/>
<text transform="translate(499.52 152.1) scale(0.9 1)" font-size="8.8" text-anchor="middle" font-weight="normal" fill="#1a1a1a" stroke="#1a1a1a" stroke-width="0.25">42</text>
<text transform="translate(451.5 32.1) scale(1.02 1)" font-size="10" text-anchor="middle" font-weight="normal" fill="#1a1a1a" stroke="#1a1a1a" stroke-width="0.25">IGL</text>
<text transform="translate(451.5 165.3) scale(0.905 1)" font-size="9.75" text-anchor="middle" font-weight="normal" fill="#1a1a1a" stroke="#1a1a1a" stroke-width="0.25">CDR3 length (nt)</text>
<text transform="translate(369.7 89.35) rotate(-90) scale(0.978 1)" font-size="9.0" text-anchor="middle" font-weight="normal" fill="#1a1a1a" stroke="#1a1a1a" stroke-width="0.25">% of rearrangements</text>
<line x1="444.96" y1="55" x2="458.55" y2="55" stroke="#000" stroke-width="1.3" stroke-linecap="butt"/>
<line x1="444.96" y1="52.4" x2="444.96" y2="57.6" stroke="#000" stroke-width="1.2" stroke-linecap="butt"/>
<line x1="458.55" y1="52.4" x2="458.55" y2="57.6" stroke="#000" stroke-width="1.2" stroke-linecap="butt"/>
<text transform="translate(451.75 51)" font-size="7.5" text-anchor="middle" font-weight="normal" fill="#1a1a1a" stroke="#1a1a1a" stroke-width="0.25">3nt</text>
<line x1="48.5" y1="191.3" x2="48.5" y2="292.5" stroke="#000" stroke-width="1.25" stroke-linecap="butt"/>
<line x1="47.9" y1="291.75" x2="173" y2="291.75" stroke="#000" stroke-width="1.35" stroke-linecap="butt"/>
<line x1="67" y1="291.35" x2="67" y2="288.42" stroke="#000" stroke-width="1.15" stroke-linecap="butt"/>
<line x1="64.4" y1="288.42" x2="69.6" y2="288.42" stroke="#000" stroke-width="1.15" stroke-linecap="butt"/>
<line x1="64.4" y1="291.35" x2="69.6" y2="291.35" stroke="#000" stroke-width="1.15" stroke-linecap="butt"/>
<line x1="76.45" y1="278.34" x2="76.45" y2="272.48" stroke="#000" stroke-width="1.15" stroke-linecap="butt"/>
<line x1="73.85" y1="272.48" x2="79.05" y2="272.48" stroke="#000" stroke-width="1.15" stroke-linecap="butt"/>
<line x1="73.85" y1="278.34" x2="79.05" y2="278.34" stroke="#000" stroke-width="1.15" stroke-linecap="butt"/>
<line x1="85.9" y1="268.25" x2="85.9" y2="263.21" stroke="#000" stroke-width="1.15" stroke-linecap="butt"/>
<line x1="83.3" y1="263.21" x2="88.5" y2="263.21" stroke="#000" stroke-width="1.15" stroke-linecap="butt"/>
<line x1="83.3" y1="268.25" x2="88.5" y2="268.25" stroke="#000" stroke-width="1.15" stroke-linecap="butt"/>
<line x1="95.35" y1="271.83" x2="95.35" y2="266.79" stroke="#000" stroke-width="1.15" stroke-linecap="butt"/>
<line x1="92.75" y1="266.79" x2="97.95" y2="266.79" stroke="#000" stroke-width="1.15" stroke-linecap="butt"/>
<line x1="92.75" y1="271.83" x2="97.95" y2="271.83" stroke="#000" stroke-width="1.15" stroke-linecap="butt"/>
<line x1="104.8" y1="269.55" x2="104.8" y2="262.72" stroke="#000" stroke-width="1.15" stroke-linecap="butt"/>
<line x1="102.2" y1="262.72" x2="107.4" y2="262.72" stroke="#000" stroke-width="1.15" stroke-linecap="butt"/>
<line x1="102.2" y1="269.55" x2="107.4" y2="269.55" stroke="#000" stroke-width="1.15" stroke-linecap="butt"/>
<line x1="114.25" y1="275.41" x2="114.25" y2="263.37" stroke="#000" stroke-width="1.15" stroke-linecap="butt"/>
<line x1="111.65" y1="263.37" x2="116.85" y2="263.37" stroke="#000" stroke-width="1.15" stroke-linecap="butt"/>
<line x1="111.65" y1="275.41" x2="116.85" y2="275.41" stroke="#000" stroke-width="1.15" stroke-linecap="butt"/>
<line x1="123.7" y1="280.94" x2="123.7" y2="271.83" stroke="#000" stroke-width="1.15" stroke-linecap="butt"/>
<line x1="121.1" y1="271.83" x2="126.3" y2="271.83" stroke="#000" stroke-width="1.15" stroke-linecap="butt"/>
<line x1="121.1" y1="280.94" x2="126.3" y2="280.94" stroke="#000" stroke-width="1.15" stroke-linecap="butt"/>
<line x1="133.15" y1="283.87" x2="133.15" y2="280.29" stroke="#000" stroke-width="1.15" stroke-linecap="butt"/>
<line x1="130.55" y1="280.29" x2="135.75" y2="280.29" stroke="#000" stroke-width="1.15" stroke-linecap="butt"/>
<line x1="130.55" y1="283.87" x2="135.75" y2="283.87" stroke="#000" stroke-width="1.15" stroke-linecap="butt"/>
<line x1="142.6" y1="286.63" x2="142.6" y2="282.57" stroke="#000" stroke-width="1.15" stroke-linecap="butt"/>
<line x1="140" y1="282.57" x2="145.2" y2="282.57" stroke="#000" stroke-width="1.15" stroke-linecap="butt"/>
<line x1="140" y1="286.63" x2="145.2" y2="286.63" stroke="#000" stroke-width="1.15" stroke-linecap="butt"/>
<line x1="152.05" y1="288.42" x2="152.05" y2="286.31" stroke="#000" stroke-width="1.15" stroke-linecap="butt"/>
<line x1="149.45" y1="286.31" x2="154.65" y2="286.31" stroke="#000" stroke-width="1.15" stroke-linecap="butt"/>
<line x1="149.45" y1="288.42" x2="154.65" y2="288.42" stroke="#000" stroke-width="1.15" stroke-linecap="butt"/>
<line x1="161.5" y1="291.35" x2="161.5" y2="290.05" stroke="#000" stroke-width="1.15" stroke-linecap="butt"/>
<line x1="158.9" y1="290.05" x2="164.1" y2="290.05" stroke="#000" stroke-width="1.15" stroke-linecap="butt"/>
<line x1="158.9" y1="291.35" x2="164.1" y2="291.35" stroke="#000" stroke-width="1.15" stroke-linecap="butt"/>
<line x1="170.95" y1="292" x2="170.95" y2="289.07" stroke="#000" stroke-width="1.15" stroke-linecap="butt"/>
<line x1="168.35" y1="289.07" x2="173.55" y2="289.07" stroke="#000" stroke-width="1.15" stroke-linecap="butt"/>
<line x1="168.35" y1="292" x2="173.55" y2="292" stroke="#000" stroke-width="1.15" stroke-linecap="butt"/>
<polyline points="57.55,292 67,289.89 76.45,275.73 85.9,265.97 95.35,269.23 104.8,267.6 114.25,267.93 123.7,274.43 133.15,282.24 142.6,284.52 152.05,287.45 161.5,290.7 170.95,290.86" fill="none" stroke="#000" stroke-width="1.75" stroke-linejoin="round"/>
<line x1="48.1" y1="291.67" x2="48.1" y2="290.54" stroke="#7e7e7e" stroke-width="1.2" stroke-linecap="butt"/>
<line x1="45.7" y1="290.54" x2="50.5" y2="290.54" stroke="#7e7e7e" stroke-width="1.2" stroke-linecap="butt"/>
<line x1="45.7" y1="291.67" x2="50.5" y2="291.67" stroke="#7e7e7e" stroke-width="1.2" stroke-linecap="butt"/>
<line x1="57.55" y1="292" x2="57.55" y2="286.79" stroke="#7e7e7e" stroke-width="1.2" stroke-linecap="butt"/>
<line x1="55.15" y1="286.79" x2="59.95" y2="286.79" stroke="#7e7e7e" stroke-width="1.2" stroke-linecap="butt"/>
<line x1="55.15" y1="292" x2="59.95" y2="292" stroke="#7e7e7e" stroke-width="1.2" stroke-linecap="butt"/>
<line x1="67" y1="283.38" x2="67" y2="271.34" stroke="#7e7e7e" stroke-width="1.2" stroke-linecap="butt"/>
<line x1="64.6" y1="271.34" x2="69.4" y2="271.34" stroke="#7e7e7e" stroke-width="1.2" stroke-linecap="butt"/>
<line x1="64.6" y1="283.38" x2="69.4" y2="283.38" stroke="#7e7e7e" stroke-width="1.2" stroke-linecap="butt"/>
<line x1="76.45" y1="252.15" x2="76.45" y2="212.29" stroke="#7e7e7e" stroke-width="1.2" stroke-linecap="butt"/>
<line x1="74.05" y1="212.29" x2="78.85" y2="212.29" stroke="#7e7e7e" stroke-width="1.2" stroke-linecap="butt"/>
<line x1="74.05" y1="252.15" x2="78.85" y2="252.15" stroke="#7e7e7e" stroke-width="1.2" stroke-linecap="butt"/>
<line x1="85.9" y1="257.84" x2="85.9" y2="241.57" stroke="#7e7e7e" stroke-width="1.2" stroke-linecap="butt"/>
<line x1="83.5" y1="241.57" x2="88.3" y2="241.57" stroke="#7e7e7e" stroke-width="1.2" stroke-linecap="butt"/>
<line x1="83.5" y1="257.84" x2="88.3" y2="257.84" stroke="#7e7e7e" stroke-width="1.2" stroke-linecap="butt"/>
<line x1="95.35" y1="282.24" x2="95.35" y2="277.69" stroke="#7e7e7e" stroke-width="1.2" stroke-linecap="butt"/>
<line x1="92.95" y1="277.69" x2="97.75" y2="277.69" stroke="#7e7e7e" stroke-width="1.2" stroke-linecap="butt"/>
<line x1="92.95" y1="282.24" x2="97.75" y2="282.24" stroke="#7e7e7e" stroke-width="1.2" stroke-linecap="butt"/>
<line x1="104.8" y1="285.01" x2="104.8" y2="263.53" stroke="#7e7e7e" stroke-width="1.2" stroke-linecap="butt"/>
<line x1="102.4" y1="263.53" x2="107.2" y2="263.53" stroke="#7e7e7e" stroke-width="1.2" stroke-linecap="butt"/>
<line x1="102.4" y1="285.01" x2="107.2" y2="285.01" stroke="#7e7e7e" stroke-width="1.2" stroke-linecap="butt"/>
<line x1="114.25" y1="290.37" x2="114.25" y2="283.05" stroke="#7e7e7e" stroke-width="1.2" stroke-linecap="butt"/>
<line x1="111.85" y1="283.05" x2="116.65" y2="283.05" stroke="#7e7e7e" stroke-width="1.2" stroke-linecap="butt"/>
<line x1="111.85" y1="290.37" x2="116.65" y2="290.37" stroke="#7e7e7e" stroke-width="1.2" stroke-linecap="butt"/>
<line x1="123.7" y1="292" x2="123.7" y2="289.4" stroke="#7e7e7e" stroke-width="1.2" stroke-linecap="butt"/>
<line x1="121.3" y1="289.4" x2="126.1" y2="289.4" stroke="#7e7e7e" stroke-width="1.2" stroke-linecap="butt"/>
<line x1="121.3" y1="292" x2="126.1" y2="292" stroke="#7e7e7e" stroke-width="1.2" stroke-linecap="butt"/>
<line x1="133.15" y1="292" x2="133.15" y2="289.72" stroke="#7e7e7e" stroke-width="1.2" stroke-linecap="butt"/>
<line x1="130.75" y1="289.72" x2="135.55" y2="289.72" stroke="#7e7e7e" stroke-width="1.2" stroke-linecap="butt"/>
<line x1="130.75" y1="292" x2="135.55" y2="292" stroke="#7e7e7e" stroke-width="1.2" stroke-linecap="butt"/>
<line x1="142.6" y1="292" x2="142.6" y2="290.37" stroke="#7e7e7e" stroke-width="1.2" stroke-linecap="butt"/>
<line x1="140.2" y1="290.37" x2="145" y2="290.37" stroke="#7e7e7e" stroke-width="1.2" stroke-linecap="butt"/>
<line x1="140.2" y1="292" x2="145" y2="292" stroke="#7e7e7e" stroke-width="1.2" stroke-linecap="butt"/>
<polyline points="45.9,292 48.1,291.67 57.55,291.02 67,276.22 76.45,223.68 85.9,251.98 95.35,280.94 104.8,284.68 114.25,288.42 123.7,291.35 133.15,291.67 142.6,291.76 152.05,291.84 172.53,291.84" fill="none" stroke="#7e7e7e" stroke-width="1.4" stroke-linejoin="round"/>
<line x1="45.1" y1="292" x2="48.5" y2="292" stroke="#000" stroke-width="0.9" stroke-linecap="butt"/>
<text transform="translate(43 295.1) scale(0.97 1)" font-size="8.8" text-anchor="end" font-weight="normal" fill="#1a1a1a" stroke="#1a1a1a" stroke-width="0.25">0</text>
<line x1="45.1" y1="259.47" x2="48.5" y2="259.47" stroke="#000" stroke-width="0.9" stroke-linecap="butt"/>
<text transform="translate(43 262.57) scale(0.97 1)" font-size="8.8" text-anchor="end" font-weight="normal" fill="#1a1a1a" stroke="#1a1a1a" stroke-width="0.25">20</text>
<line x1="45.1" y1="226.93" x2="48.5" y2="226.93" stroke="#000" stroke-width="0.9" stroke-linecap="butt"/>
<text transform="translate(43 230.03) scale(0.97 1)" font-size="8.8" text-anchor="end" font-weight="normal" fill="#1a1a1a" stroke="#1a1a1a" stroke-width="0.25">40</text>
<line x1="45.1" y1="194.4" x2="48.5" y2="194.4" stroke="#000" stroke-width="0.9" stroke-linecap="butt"/>
<text transform="translate(43 197.5) scale(0.97 1)" font-size="8.8" text-anchor="end" font-weight="normal" fill="#1a1a1a" stroke="#1a1a1a" stroke-width="0.25">60</text>
<line x1="57.55" y1="292" x2="57.55" y2="295.1" stroke="#000" stroke-width="0.9" stroke-linecap="butt"/>
<text transform="translate(57.75 306.1) scale(0.9 1)" font-size="8.8" text-anchor="middle" font-weight="normal" fill="#1a1a1a" stroke="#1a1a1a" stroke-width="0.25">30</text>
<line x1="76.45" y1="292" x2="76.45" y2="295.1" stroke="#000" stroke-width="0.9" stroke-linecap="butt"/>
<text transform="translate(76.65 306.1) scale(0.9 1)" font-size="8.8" text-anchor="middle" font-weight="normal" fill="#1a1a1a" stroke="#1a1a1a" stroke-width="0.25">36</text>
<line x1="95.35" y1="292" x2="95.35" y2="295.1" stroke="#000" stroke-width="0.9" stroke-linecap="butt"/>
<text transform="translate(95.55 306.1) scale(0.9 1)" font-size="8.8" text-anchor="middle" font-weight="normal" fill="#1a1a1a" stroke="#1a1a1a" stroke-width="0.25">42</text>
<line x1="114.25" y1="292" x2="114.25" y2="295.1" stroke="#000" stroke-width="0.9" stroke-linecap="butt"/>
<text transform="translate(114.45 306.1) scale(0.9 1)" font-size="8.8" text-anchor="middle" font-weight="normal" fill="#1a1a1a" stroke="#1a1a1a" stroke-width="0.25">48</text>
<line x1="133.15" y1="292" x2="133.15" y2="295.1" stroke="#000" stroke-width="0.9" stroke-linecap="butt"/>
<text transform="translate(133.35 306.1) scale(0.9 1)" font-size="8.8" text-anchor="middle" font-weight="normal" fill="#1a1a1a" stroke="#1a1a1a" stroke-width="0.25">54</text>
<line x1="152.05" y1="292" x2="152.05" y2="295.1" stroke="#000" stroke-width="0.9" stroke-linecap="butt"/>
<text transform="translate(152.25 306.1) scale(0.9 1)" font-size="8.8" text-anchor="middle" font-weight="normal" fill="#1a1a1a" stroke="#1a1a1a" stroke-width="0.25">60</text>
<line x1="170.95" y1="292" x2="170.95" y2="295.1" stroke="#000" stroke-width="0.9" stroke-linecap="butt"/>
<text transform="translate(171.15 306.1) scale(0.9 1)" font-size="8.8" text-anchor="middle" font-weight="normal" fill="#1a1a1a" stroke="#1a1a1a" stroke-width="0.25">66</text>
<text transform="translate(109.8 185.8) scale(1.02 1)" font-size="10" text-anchor="middle" font-weight="normal" fill="#1a1a1a" stroke="#1a1a1a" stroke-width="0.25">TRD</text>
<text transform="translate(110.3 319.3) scale(0.905 1)" font-size="9.75" text-anchor="middle" font-weight="normal" fill="#1a1a1a" stroke="#1a1a1a" stroke-width="0.25">CDR3 length (nt)</text>
<text transform="translate(27.4 243.4) rotate(-90) scale(0.978 1)" font-size="9.0" text-anchor="middle" font-weight="normal" fill="#1a1a1a" stroke="#1a1a1a" stroke-width="0.25">% of rearrangements</text>
<line x1="76.45" y1="207.3" x2="95.35" y2="207.3" stroke="#000" stroke-width="1.3" stroke-linecap="butt"/>
<line x1="76.45" y1="204.7" x2="76.45" y2="209.9" stroke="#000" stroke-width="1.2" stroke-linecap="butt"/>
<line x1="95.35" y1="204.7" x2="95.35" y2="209.9" stroke="#000" stroke-width="1.2" stroke-linecap="butt"/>
<text transform="translate(85.9 203.3)" font-size="7.5" text-anchor="middle" font-weight="normal" fill="#1a1a1a" stroke="#1a1a1a" stroke-width="0.25">6nt</text>
<line x1="220.55" y1="191.3" x2="220.55" y2="292.5" stroke="#000" stroke-width="1.25" stroke-linecap="butt"/>
<line x1="219.95" y1="291.75" x2="345" y2="291.75" stroke="#000" stroke-width="1.35" stroke-linecap="butt"/>
<polyline points="220.55,292 229.93,291.84 236.18,290.37 239.3,288.75 248.68,257.84 258.05,240.6 267.43,229.86 276.8,227.26 286.18,224.66 295.55,274.43 304.93,278.99 314.3,287.45 323.68,290.54 333.05,291.51 339.3,292" fill="none" stroke="#7e7e7e" stroke-width="1.4" stroke-linejoin="round"/>
<line x1="248.68" y1="280.61" x2="248.68" y2="276.06" stroke="#000" stroke-width="1.15" stroke-linecap="butt"/>
<line x1="246.08" y1="276.06" x2="251.28" y2="276.06" stroke="#000" stroke-width="1.15" stroke-linecap="butt"/>
<line x1="246.08" y1="280.61" x2="251.28" y2="280.61" stroke="#000" stroke-width="1.15" stroke-linecap="butt"/>
<line x1="258.05" y1="262.07" x2="258.05" y2="252.63" stroke="#000" stroke-width="1.15" stroke-linecap="butt"/>
<line x1="255.45" y1="252.63" x2="260.65" y2="252.63" stroke="#000" stroke-width="1.15" stroke-linecap="butt"/>
<line x1="255.45" y1="262.07" x2="260.65" y2="262.07" stroke="#000" stroke-width="1.15" stroke-linecap="butt"/>
<line x1="267.43" y1="230.19" x2="267.43" y2="217.82" stroke="#000" stroke-width="1.15" stroke-linecap="butt"/>
<line x1="264.82" y1="217.82" x2="270.03" y2="217.82" stroke="#000" stroke-width="1.15" stroke-linecap="butt"/>
<line x1="264.82" y1="230.19" x2="270.03" y2="230.19" stroke="#000" stroke-width="1.15" stroke-linecap="butt"/>
<line x1="276.8" y1="213.59" x2="276.8" y2="210.02" stroke="#000" stroke-width="1.15" stroke-linecap="butt"/>
<line x1="274.2" y1="210.02" x2="279.4" y2="210.02" stroke="#000" stroke-width="1.15" stroke-linecap="butt"/>
<line x1="274.2" y1="213.59" x2="279.4" y2="213.59" stroke="#000" stroke-width="1.15" stroke-linecap="butt"/>
<line x1="286.18" y1="227.26" x2="286.18" y2="220.43" stroke="#000" stroke-width="1.15" stroke-linecap="butt"/>
<line x1="283.57" y1="220.43" x2="288.78" y2="220.43" stroke="#000" stroke-width="1.15" stroke-linecap="butt"/>
<line x1="283.57" y1="227.26" x2="288.78" y2="227.26" stroke="#000" stroke-width="1.15" stroke-linecap="butt"/>
<line x1="295.55" y1="261.09" x2="295.55" y2="251.33" stroke="#000" stroke-width="1.15" stroke-linecap="butt"/>
<line x1="292.95" y1="251.33" x2="298.15" y2="251.33" stroke="#000" stroke-width="1.15" stroke-linecap="butt"/>
<line x1="292.95" y1="261.09" x2="298.15" y2="261.09" stroke="#000" stroke-width="1.15" stroke-linecap="butt"/>
<line x1="304.93" y1="280.94" x2="304.93" y2="274.11" stroke="#000" stroke-width="1.15" stroke-linecap="butt"/>
<line x1="302.32" y1="274.11" x2="307.53" y2="274.11" stroke="#000" stroke-width="1.15" stroke-linecap="butt"/>
<line x1="302.32" y1="280.94" x2="307.53" y2="280.94" stroke="#000" stroke-width="1.15" stroke-linecap="butt"/>
<line x1="314.3" y1="288.42" x2="314.3" y2="284.19" stroke="#000" stroke-width="1.15" stroke-linecap="butt"/>
<line x1="311.7" y1="284.19" x2="316.9" y2="284.19" stroke="#000" stroke-width="1.15" stroke-linecap="butt"/>
<line x1="311.7" y1="288.42" x2="316.9" y2="288.42" stroke="#000" stroke-width="1.15" stroke-linecap="butt"/>
<polyline points="238.05,290.54 239.3,290.05 248.68,278.34 258.05,257.19 267.43,224.33 276.8,212.29 286.18,223.35 295.55,256.21 304.93,277.36 314.3,286.47 323.68,290.05 333.05,291.51 342.43,292" fill="none" stroke="#000" stroke-width="1.75" stroke-linejoin="round"/>
<line x1="217.15" y1="292" x2="220.55" y2="292" stroke="#000" stroke-width="0.9" stroke-linecap="butt"/>
<text transform="translate(215.05 295.1) scale(0.97 1)" font-size="8.8" text-anchor="end" font-weight="normal" fill="#1a1a1a" stroke="#1a1a1a" stroke-width="0.25">0</text>
<line x1="217.15" y1="259.47" x2="220.55" y2="259.47" stroke="#000" stroke-width="0.9" stroke-linecap="butt"/>
<text transform="translate(215.05 262.57) scale(0.97 1)" font-size="8.8" text-anchor="end" font-weight="normal" fill="#1a1a1a" stroke="#1a1a1a" stroke-width="0.25">10</text>
<line x1="217.15" y1="226.93" x2="220.55" y2="226.93" stroke="#000" stroke-width="0.9" stroke-linecap="butt"/>
<text transform="translate(215.05 230.03) scale(0.97 1)" font-size="8.8" text-anchor="end" font-weight="normal" fill="#1a1a1a" stroke="#1a1a1a" stroke-width="0.25">20</text>
<line x1="217.15" y1="194.4" x2="220.55" y2="194.4" stroke="#000" stroke-width="0.9" stroke-linecap="butt"/>
<text transform="translate(215.05 197.5) scale(0.97 1)" font-size="8.8" text-anchor="end" font-weight="normal" fill="#1a1a1a" stroke="#1a1a1a" stroke-width="0.25">30</text>
<line x1="220.55" y1="292" x2="220.55" y2="295.1" stroke="#000" stroke-width="0.9" stroke-linecap="butt"/>
<text transform="translate(220.75 306.1) scale(0.9 1)" font-size="8.8" text-anchor="middle" font-weight="normal" fill="#1a1a1a" stroke="#1a1a1a" stroke-width="0.25">18</text>
<line x1="239.3" y1="292" x2="239.3" y2="295.1" stroke="#000" stroke-width="0.9" stroke-linecap="butt"/>
<text transform="translate(239.5 306.1) scale(0.9 1)" font-size="8.8" text-anchor="middle" font-weight="normal" fill="#1a1a1a" stroke="#1a1a1a" stroke-width="0.25">24</text>
<line x1="258.05" y1="292" x2="258.05" y2="295.1" stroke="#000" stroke-width="0.9" stroke-linecap="butt"/>
<text transform="translate(258.25 306.1) scale(0.9 1)" font-size="8.8" text-anchor="middle" font-weight="normal" fill="#1a1a1a" stroke="#1a1a1a" stroke-width="0.25">30</text>
<line x1="276.8" y1="292" x2="276.8" y2="295.1" stroke="#000" stroke-width="0.9" stroke-linecap="butt"/>
<text transform="translate(277 306.1) scale(0.9 1)" font-size="8.8" text-anchor="middle" font-weight="normal" fill="#1a1a1a" stroke="#1a1a1a" stroke-width="0.25">36</text>
<line x1="295.55" y1="292" x2="295.55" y2="295.1" stroke="#000" stroke-width="0.9" stroke-linecap="butt"/>
<text transform="translate(295.75 306.1) scale(0.9 1)" font-size="8.8" text-anchor="middle" font-weight="normal" fill="#1a1a1a" stroke="#1a1a1a" stroke-width="0.25">42</text>
<line x1="314.3" y1="292" x2="314.3" y2="295.1" stroke="#000" stroke-width="0.9" stroke-linecap="butt"/>
<text transform="translate(314.5 306.1) scale(0.9 1)" font-size="8.8" text-anchor="middle" font-weight="normal" fill="#1a1a1a" stroke="#1a1a1a" stroke-width="0.25">48</text>
<line x1="333.05" y1="292" x2="333.05" y2="295.1" stroke="#000" stroke-width="0.9" stroke-linecap="butt"/>
<text transform="translate(333.25 306.1) scale(0.9 1)" font-size="8.8" text-anchor="middle" font-weight="normal" fill="#1a1a1a" stroke="#1a1a1a" stroke-width="0.25">54</text>
<text transform="translate(281.5 185.8) scale(1.02 1)" font-size="10" text-anchor="middle" font-weight="normal" fill="#1a1a1a" stroke="#1a1a1a" stroke-width="0.25">TRB</text>
<text transform="translate(281.5 319.3) scale(0.905 1)" font-size="9.75" text-anchor="middle" font-weight="normal" fill="#1a1a1a" stroke="#1a1a1a" stroke-width="0.25">CDR3 length (nt)</text>
<text transform="translate(199.45 243.4) rotate(-90) scale(0.978 1)" font-size="9.0" text-anchor="middle" font-weight="normal" fill="#1a1a1a" stroke="#1a1a1a" stroke-width="0.25">% of rearrangements</text>
<line x1="377.7" y1="198.8" x2="399.4" y2="198.8" stroke="#000" stroke-width="1.3" stroke-linecap="butt"/>
<line x1="377.7" y1="214.2" x2="399.4" y2="214.2" stroke="#7e7e7e" stroke-width="1.2" stroke-linecap="butt"/>
<text transform="translate(402.7 201.4) scale(0.94 1)" font-size="8.4" text-anchor="start" font-weight="normal" fill="#1a1a1a" stroke="#1a1a1a" stroke-width="0.25">Control</text>
<text transform="translate(402.7 216.8) scale(0.94 1)" font-size="8.4" text-anchor="start" font-weight="normal" fill="#1a1a1a" stroke="#1a1a1a" stroke-width="0.25">XLF</text>
<rect x="56.2" y="358.7" width="14.3" height="32.4" fill="#000000"/>
<rect x="56.2" y="391.1" width="14.3" height="27.72" fill="#474747"/>
<rect x="56.2" y="418.82" width="14.3" height="17.96" fill="#888888"/>
<rect x="56.2" y="436.78" width="14.3" height="19.52" fill="#c6c6c6"/>
<line x1="59.85" y1="418.62" x2="66.85" y2="418.62" stroke="#000" stroke-width="1.2" stroke-linecap="butt"/>
<line x1="59.85" y1="436.58" x2="66.85" y2="436.58" stroke="#000" stroke-width="1.2" stroke-linecap="butt"/>
<line x1="63.35" y1="456.3" x2="63.35" y2="459.9" stroke="#000" stroke-width="1" stroke-linecap="butt"/>
<text transform="translate(66.95 464.3) rotate(-45)" font-size="8.5" text-anchor="end" font-weight="normal" fill="#1a1a1a" stroke="#1a1a1a" stroke-width="0.25">Control</text>
<rect x="77.3" y="358.7" width="14.3" height="30.94" fill="#000000"/>
<rect x="77.3" y="389.64" width="14.3" height="26.06" fill="#474747"/>
<rect x="77.3" y="415.7" width="14.3" height="20.69" fill="#888888"/>
<rect x="77.3" y="436.39" width="14.3" height="19.91" fill="#c6c6c6"/>
<line x1="80.95" y1="415.5" x2="87.95" y2="415.5" stroke="#000" stroke-width="1.2" stroke-linecap="butt"/>
<line x1="80.95" y1="436.19" x2="87.95" y2="436.19" stroke="#000" stroke-width="1.2" stroke-linecap="butt"/>
<line x1="84.45" y1="456.3" x2="84.45" y2="459.9" stroke="#000" stroke-width="1" stroke-linecap="butt"/>
<text transform="translate(88.05 464.3) rotate(-45)" font-size="8.5" text-anchor="end" font-weight="normal" fill="#1a1a1a" stroke="#1a1a1a" stroke-width="0.25">XLF</text>
<rect x="119.05" y="358.7" width="14.3" height="26.94" fill="#000000"/>
<rect x="119.05" y="385.64" width="14.3" height="29.08" fill="#474747"/>
<rect x="119.05" y="414.72" width="14.3" height="20.2" fill="#888888"/>
<rect x="119.05" y="434.93" width="14.3" height="21.37" fill="#c6c6c6"/>
<line x1="122.7" y1="414.52" x2="129.7" y2="414.52" stroke="#000" stroke-width="1.2" stroke-linecap="butt"/>
<line x1="122.7" y1="434.73" x2="129.7" y2="434.73" stroke="#000" stroke-width="1.2" stroke-linecap="butt"/>
<line x1="126.2" y1="456.3" x2="126.2" y2="459.9" stroke="#000" stroke-width="1" stroke-linecap="butt"/>
<text transform="translate(129.8 464.3) rotate(-45)" font-size="8.5" text-anchor="end" font-weight="normal" fill="#1a1a1a" stroke="#1a1a1a" stroke-width="0.25">Control</text>
<rect x="140.15" y="358.7" width="14.3" height="24.2" fill="#000000"/>
<rect x="140.15" y="382.9" width="14.3" height="27.91" fill="#474747"/>
<rect x="140.15" y="410.82" width="14.3" height="24.11" fill="#888888"/>
<rect x="140.15" y="434.93" width="14.3" height="21.37" fill="#c6c6c6"/>
<line x1="143.8" y1="410.62" x2="150.8" y2="410.62" stroke="#000" stroke-width="1.2" stroke-linecap="butt"/>
<line x1="143.8" y1="434.73" x2="150.8" y2="434.73" stroke="#000" stroke-width="1.2" stroke-linecap="butt"/>
<line x1="147.3" y1="456.3" x2="147.3" y2="459.9" stroke="#000" stroke-width="1" stroke-linecap="butt"/>
<text transform="translate(150.9 464.3) rotate(-45)" font-size="8.5" text-anchor="end" font-weight="normal" fill="#1a1a1a" stroke="#1a1a1a" stroke-width="0.25">XLF</text>
<rect x="181.9" y="358.7" width="14.3" height="27.62" fill="#000000"/>
<rect x="181.9" y="386.32" width="14.3" height="29.48" fill="#474747"/>
<rect x="181.9" y="415.8" width="14.3" height="19.91" fill="#888888"/>
<rect x="181.9" y="435.71" width="14.3" height="20.59" fill="#c6c6c6"/>
<line x1="185.55" y1="415.6" x2="192.55" y2="415.6" stroke="#000" stroke-width="1.2" stroke-linecap="butt"/>
<line x1="185.55" y1="435.51" x2="192.55" y2="435.51" stroke="#000" stroke-width="1.2" stroke-linecap="butt"/>
<line x1="189.05" y1="456.3" x2="189.05" y2="459.9" stroke="#000" stroke-width="1" stroke-linecap="butt"/>
<text transform="translate(192.65 464.3) rotate(-45)" font-size="8.5" text-anchor="end" font-weight="normal" fill="#1a1a1a" stroke="#1a1a1a" stroke-width="0.25">Control</text>
<rect x="203" y="358.7" width="14.3" height="25.86" fill="#000000"/>
<rect x="203" y="384.56" width="14.3" height="26.25" fill="#474747"/>
<rect x="203" y="410.82" width="14.3" height="23.33" fill="#888888"/>
<rect x="203" y="434.14" width="14.3" height="22.16" fill="#c6c6c6"/>
<line x1="206.65" y1="410.62" x2="213.65" y2="410.62" stroke="#000" stroke-width="1.2" stroke-linecap="butt"/>
<line x1="206.65" y1="433.94" x2="213.65" y2="433.94" stroke="#000" stroke-width="1.2" stroke-linecap="butt"/>
<line x1="210.15" y1="456.3" x2="210.15" y2="459.9" stroke="#000" stroke-width="1" stroke-linecap="butt"/>
<text transform="translate(213.75 464.3) rotate(-45)" font-size="8.5" text-anchor="end" font-weight="normal" fill="#1a1a1a" stroke="#1a1a1a" stroke-width="0.25">XLF</text>
<rect x="244.75" y="358.7" width="14.3" height="24.99" fill="#000000"/>
<rect x="244.75" y="383.69" width="14.3" height="28.4" fill="#474747"/>
<rect x="244.75" y="412.09" width="14.3" height="20.79" fill="#888888"/>
<rect x="244.75" y="432.88" width="14.3" height="23.42" fill="#c6c6c6"/>
<line x1="248.4" y1="411.89" x2="255.4" y2="411.89" stroke="#000" stroke-width="1.2" stroke-linecap="butt"/>
<line x1="248.4" y1="432.68" x2="255.4" y2="432.68" stroke="#000" stroke-width="1.2" stroke-linecap="butt"/>
<line x1="251.9" y1="456.3" x2="251.9" y2="459.9" stroke="#000" stroke-width="1" stroke-linecap="butt"/>
<text transform="translate(255.5 464.3) rotate(-45)" font-size="8.5" text-anchor="end" font-weight="normal" fill="#1a1a1a" stroke="#1a1a1a" stroke-width="0.25">Control</text>
<rect x="265.85" y="358.7" width="14.3" height="21.57" fill="#000000"/>
<rect x="265.85" y="380.27" width="14.3" height="28.89" fill="#474747"/>
<rect x="265.85" y="409.16" width="14.3" height="20.59" fill="#888888"/>
<rect x="265.85" y="429.75" width="14.3" height="26.55" fill="#c6c6c6"/>
<line x1="269.5" y1="408.96" x2="276.5" y2="408.96" stroke="#000" stroke-width="1.2" stroke-linecap="butt"/>
<line x1="269.5" y1="429.55" x2="276.5" y2="429.55" stroke="#000" stroke-width="1.2" stroke-linecap="butt"/>
<line x1="273" y1="456.3" x2="273" y2="459.9" stroke="#000" stroke-width="1" stroke-linecap="butt"/>
<text transform="translate(276.6 464.3) rotate(-45)" font-size="8.5" text-anchor="end" font-weight="normal" fill="#1a1a1a" stroke="#1a1a1a" stroke-width="0.25">XLF</text>
<rect x="307.6" y="358.7" width="14.3" height="24.5" fill="#000000"/>
<rect x="307.6" y="383.2" width="14.3" height="28.11" fill="#474747"/>
<rect x="307.6" y="411.31" width="14.3" height="22.35" fill="#888888"/>
<rect x="307.6" y="433.66" width="14.3" height="22.64" fill="#c6c6c6"/>
<line x1="311.25" y1="411.11" x2="318.25" y2="411.11" stroke="#000" stroke-width="1.2" stroke-linecap="butt"/>
<line x1="311.25" y1="433.46" x2="318.25" y2="433.46" stroke="#000" stroke-width="1.2" stroke-linecap="butt"/>
<line x1="314.75" y1="456.3" x2="314.75" y2="459.9" stroke="#000" stroke-width="1" stroke-linecap="butt"/>
<text transform="translate(318.35 464.3) rotate(-45)" font-size="8.5" text-anchor="end" font-weight="normal" fill="#1a1a1a" stroke="#1a1a1a" stroke-width="0.25">Control</text>
<rect x="328.7" y="358.7" width="14.3" height="23.13" fill="#000000"/>
<rect x="328.7" y="381.83" width="14.3" height="26.84" fill="#474747"/>
<rect x="328.7" y="408.67" width="14.3" height="22.35" fill="#888888"/>
<rect x="328.7" y="431.02" width="14.3" height="25.28" fill="#c6c6c6"/>
<line x1="335.85" y1="456.3" x2="335.85" y2="459.9" stroke="#000" stroke-width="1" stroke-linecap="butt"/>
<text transform="translate(339.45 464.3) rotate(-45)" font-size="8.5" text-anchor="end" font-weight="normal" fill="#1a1a1a" stroke="#1a1a1a" stroke-width="0.25">XLF</text>
<line x1="53.1" y1="355.7" x2="53.1" y2="456.8" stroke="#000" stroke-width="1.25" stroke-linecap="butt"/>
<line x1="52.5" y1="456.2" x2="346.3" y2="456.2" stroke="#000" stroke-width="1.35" stroke-linecap="butt"/>
<line x1="50" y1="456.3" x2="53.1" y2="456.3" stroke="#000" stroke-width="1" stroke-linecap="butt"/>
<text transform="translate(48.3 459.4) scale(0.97 1)" font-size="8.8" text-anchor="end" font-weight="normal" fill="#1a1a1a" stroke="#1a1a1a" stroke-width="0.25">0</text>
<line x1="50" y1="436.78" x2="53.1" y2="436.78" stroke="#000" stroke-width="1" stroke-linecap="butt"/>
<text transform="translate(48.3 439.88) scale(0.97 1)" font-size="8.8" text-anchor="end" font-weight="normal" fill="#1a1a1a" stroke="#1a1a1a" stroke-width="0.25">20</text>
<line x1="50" y1="417.26" x2="53.1" y2="417.26" stroke="#000" stroke-width="1" stroke-linecap="butt"/>
<text transform="translate(48.3 420.36) scale(0.97 1)" font-size="8.8" text-anchor="end" font-weight="normal" fill="#1a1a1a" stroke="#1a1a1a" stroke-width="0.25">40</text>
<line x1="50" y1="397.74" x2="53.1" y2="397.74" stroke="#000" stroke-width="1" stroke-linecap="butt"/>
<text transform="translate(48.3 400.84) scale(0.97 1)" font-size="8.8" text-anchor="end" font-weight="normal" fill="#1a1a1a" stroke="#1a1a1a" stroke-width="0.25">60</text>
<line x1="50" y1="378.22" x2="53.1" y2="378.22" stroke="#000" stroke-width="1" stroke-linecap="butt"/>
<text transform="translate(48.3 381.32) scale(0.97 1)" font-size="8.8" text-anchor="end" font-weight="normal" fill="#1a1a1a" stroke="#1a1a1a" stroke-width="0.25">80</text>
<line x1="50" y1="358.7" x2="53.1" y2="358.7" stroke="#000" stroke-width="1" stroke-linecap="butt"/>
<text transform="translate(48.3 361.8) scale(0.97 1)" font-size="8.8" text-anchor="end" font-weight="normal" fill="#1a1a1a" stroke="#1a1a1a" stroke-width="0.25">100</text>
<text transform="translate(26.8 408.8) rotate(-90) scale(0.99 1)" font-size="9.0" text-anchor="middle" font-weight="normal" fill="#1a1a1a" stroke="#1a1a1a" stroke-width="0.25">% of N-nucleotides</text>
<text transform="translate(74 353.3)" font-size="8.4" text-anchor="middle" font-weight="normal" fill="#1a1a1a" stroke="#1a1a1a" stroke-width="0.25">IGH</text>
<text transform="translate(136.6 353.3)" font-size="8.4" text-anchor="middle" font-weight="normal" fill="#1a1a1a" stroke="#1a1a1a" stroke-width="0.25">IGK</text>
<text transform="translate(199.4 353.3)" font-size="8.4" text-anchor="middle" font-weight="normal" fill="#1a1a1a" stroke="#1a1a1a" stroke-width="0.25">IGL</text>
<text transform="translate(262.7 353.3)" font-size="8.4" text-anchor="middle" font-weight="normal" fill="#1a1a1a" stroke="#1a1a1a" stroke-width="0.25">TRD</text>
<text transform="translate(325.7 353.3)" font-size="8.4" text-anchor="middle" font-weight="normal" fill="#1a1a1a" stroke="#1a1a1a" stroke-width="0.25">TRB</text>
<rect x="363.5" y="359.2" width="11.7" height="9.8" fill="#c6c6c6"/>
<text transform="translate(378.1 366.6) scale(0.93 1)" font-size="8.3" text-anchor="start" font-weight="normal" fill="#1a1a1a" stroke="#1a1a1a" stroke-width="0.25">A</text>
<rect x="363.5" y="373.7" width="11.7" height="9.8" fill="#888888"/>
<text transform="translate(378.1 381.1) scale(0.93 1)" font-size="8.3" text-anchor="start" font-weight="normal" fill="#1a1a1a" stroke="#1a1a1a" stroke-width="0.25">T</text>
<rect x="363.5" y="388.2" width="11.7" height="9.8" fill="#474747"/>
<text transform="translate(378.1 395.6) scale(0.93 1)" font-size="8.3" text-anchor="start" font-weight="normal" fill="#1a1a1a" stroke="#1a1a1a" stroke-width="0.25">C</text>
<rect x="363.5" y="402.7" width="11.7" height="9.8" fill="#000000"/>
<text transform="translate(378.1 410.1) scale(0.93 1)" font-size="8.3" text-anchor="start" font-weight="normal" fill="#1a1a1a" stroke="#1a1a1a" stroke-width="0.25">G</text>
<rect x="0.5" y="0.5" width="519" height="492" fill="none" stroke="#111" stroke-width="1" shape-rendering="crispEdges"/>
</svg>
</body></html>
